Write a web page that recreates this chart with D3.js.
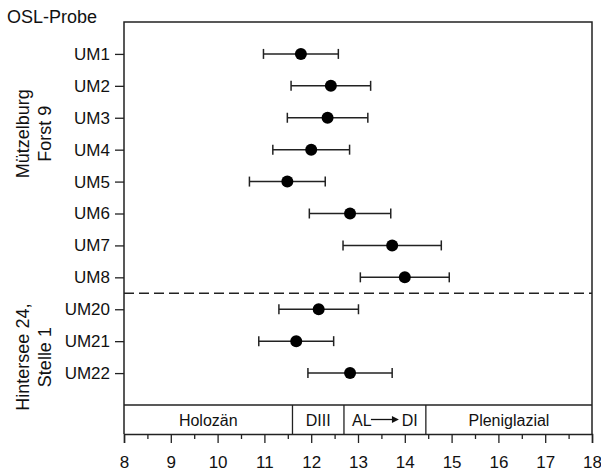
<!DOCTYPE html>
<html lang="de">
<head>
<meta charset="UTF-8">
<title>OSL-Probe</title>
<script src="https://d3js.org/d3.v7.min.js"></script>
<style>
  body { margin: 0; background: #fff; }
  text { font-family: "Liberation Sans", Arial, sans-serif; fill: #111; }
</style>
</head>
<body>
<svg id="chart" width="601" height="472"></svg>
<script>
// samples (top to bottom), OSL ages in ka and their errors
var samples = ["UM1", "UM2", "UM3", "UM4", "UM5", "UM6", "UM7", "UM8", "UM20", "UM21", "UM22"];
var ages    = [11.78, 12.42, 12.35, 12.00, 11.49, 12.83, 13.73, 14.00, 12.16, 11.68, 12.83];
var errors  = [0.80, 0.85, 0.86, 0.82, 0.81, 0.87, 1.05, 0.95, 0.85, 0.80, 0.90];

// site groups, the names sit beside these two rows
var groupNames = [["Mützelburg", "Forst 9"], ["Hintersee 24,", "Stelle 1"]];
var groupRows  = [["UM3", "UM4"], ["UM21", "UM22"]];

// climate periods along the bottom
var periodNames = ["Holozän", "DIII", "AL", "Pleniglazial"];
var periodFrom  = [8, 11.6, 12.7, 14.45];
var periodTo    = [11.6, 12.7, 14.45, 18];

var xTicks = [8, 9, 10, 11, 12, 13, 14, 15, 16, 17, 18];

var svg = d3.select("#chart");
var mLeft = 124, mRight = 592, mTop = 22, bandTop = 405, mBottom = 434;
var ink = "#222";

var x = d3.scaleLinear().domain([8, 18]).range([mLeft, mRight]);
var y = d3.scalePoint().domain(samples).range([mTop, bandTop]).padding(1);

// frame
svg.append("path")
    .attr("d", "M" + mLeft + "," + mBottom + "V" + mTop + "H" + mRight + "V" + mBottom)
    .attr("fill", "none").attr("stroke", ink).attr("stroke-width", 1.5);

// left axis with sample names
var gy = svg.append("g").attr("transform", "translate(" + mLeft + ",0)")
    .call(d3.axisLeft(y).tickSize(9).tickPadding(5));
gy.select(".domain").remove();
gy.selectAll("line").attr("stroke", ink).attr("stroke-width", 1.3);
gy.selectAll("text").attr("font-size", 17).attr("font-family", "Liberation Sans, Arial, sans-serif").attr("fill", "#111");

// separator between the two sites
var sepY = (y("UM8") + y("UM20")) / 2;
svg.append("line")
    .attr("x1", mLeft).attr("x2", mRight).attr("y1", sepY).attr("y2", sepY)
    .attr("stroke", ink).attr("stroke-width", 1.5).attr("stroke-dasharray", "10,5");

// error bars
var rows = samples.map(function (s, i) { return { s: s, a: ages[i], e: errors[i] }; });
var g = svg.append("g");
g.selectAll("line.err").data(rows).enter().append("line")
    .attr("class", "err")
    .attr("x1", function (d) { return x(d.a - d.e); })
    .attr("x2", function (d) { return x(d.a + d.e); })
    .attr("y1", function (d) { return y(d.s); })
    .attr("y2", function (d) { return y(d.s); })
    .attr("stroke", ink).attr("stroke-width", 1.5);
[-1, 1].forEach(function (side) {
    g.selectAll("line.cap" + (side + 1)).data(rows).enter().append("line")
        .attr("class", "cap" + (side + 1))
        .attr("x1", function (d) { return x(d.a + side * d.e); })
        .attr("x2", function (d) { return x(d.a + side * d.e); })
        .attr("y1", function (d) { return y(d.s) - 5; })
        .attr("y2", function (d) { return y(d.s) + 5; })
        .attr("stroke", ink).attr("stroke-width", 1.5);
});
g.selectAll("circle").data(rows).enter().append("circle")
    .attr("cx", function (d) { return x(d.a); })
    .attr("cy", function (d) { return y(d.s); })
    .attr("r", 6).attr("fill", "#000");

// period band
svg.append("line").attr("x1", mLeft).attr("x2", mRight).attr("y1", bandTop).attr("y2", bandTop)
    .attr("stroke", ink).attr("stroke-width", 1.3);
svg.selectAll("line.div").data(periodFrom.slice(1)).enter().append("line")
    .attr("class", "div")
    .attr("x1", function (d) { return x(d); }).attr("x2", function (d) { return x(d); })
    .attr("y1", bandTop).attr("y2", mBottom)
    .attr("stroke", ink).attr("stroke-width", 1.3);
var ty = (bandTop + mBottom) / 2 + 6;
svg.selectAll("text.period").data(periodNames).enter().append("text")
    .attr("class", "period")
    .attr("x", function (d, i) { return x((periodFrom[i] + periodTo[i]) / 2); })
    .attr("y", ty)
    .attr("text-anchor", "middle").attr("font-size", 16)
    .each(function (d) {
        var t = d3.select(this);
        if (d === "AL") {
            // AL -> DI with a drawn arrow in the gap
            t.append("tspan").text("AL");
            t.append("tspan").attr("dx", 30).text("DI");
        } else {
            t.text(d);
        }
    });
// arrow for AL -> DI
var ac = x((periodFrom[2] + periodTo[2]) / 2);
svg.append("line").attr("x1", ac - 14).attr("x2", ac + 8).attr("y1", ty - 6).attr("y2", ty - 6)
    .attr("stroke", "#111").attr("stroke-width", 1.3);
svg.append("path").attr("d", "M" + (ac + 14) + "," + (ty - 6) + "l-7,-3.5v7z").attr("fill", "#111");

// bottom axis, minor ticks at half units
var gx = svg.append("g").attr("transform", "translate(0," + mBottom + ")")
    .call(d3.axisBottom(x).tickValues(xTicks).tickSize(9).tickPadding(13).tickFormat(d3.format("d")));
gx.selectAll("line").attr("stroke", ink).attr("stroke-width", 1.3);
gx.select(".domain").attr("stroke", ink).attr("stroke-width", 1.5);
gx.selectAll("text").attr("font-size", 17).attr("font-family", "Liberation Sans, Arial, sans-serif").attr("fill", "#111");
svg.append("g").attr("transform", "translate(0," + mBottom + ")")
    .call(d3.axisBottom(x).tickValues(d3.range(8.5, 18, 1)).tickSize(5).tickFormat(""))
    .call(function (s) { s.select(".domain").remove(); s.selectAll("line").attr("stroke", ink).attr("stroke-width", 1.3); });

// header
svg.append("text").attr("x", 7).attr("y", 23).attr("font-size", 18).text("OSL-Probe");

// rotated site names
groupNames.forEach(function (names, i) {
    var cy = (y(groupRows[i][0]) + y(groupRows[i][1])) / 2;
    var t = svg.append("text")
        .attr("transform", "translate(29," + cy + ") rotate(-90)")
        .attr("text-anchor", "middle").attr("font-size", 18);
    names.forEach(function (n, j) {
        t.append("tspan").attr("x", 0).attr("dy", j === 0 ? 0 : 22).text(n);
    });
});
</script>
</body>
</html>
